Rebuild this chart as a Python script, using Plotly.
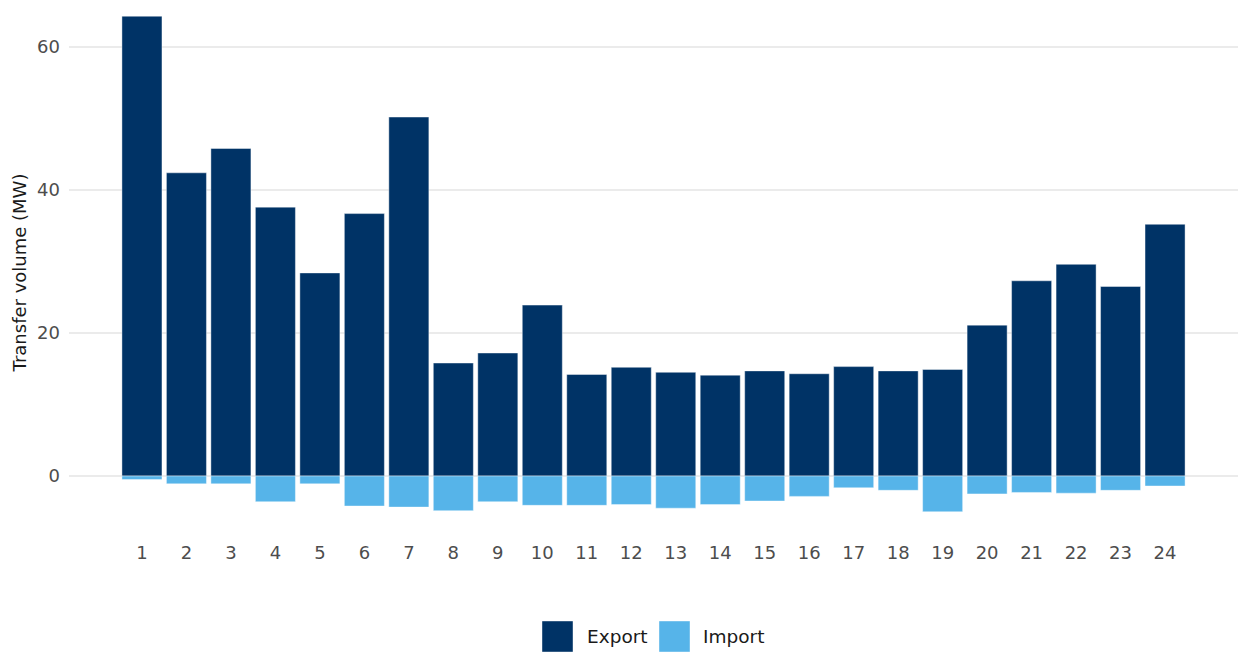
import plotly.graph_objects as go

hours = list(range(1, 25))
hour_labels = [str(h) for h in hours]
export_mw = [64.3, 42.4, 45.8, 37.6, 28.4, 36.7, 50.2, 15.8, 17.2, 23.9, 14.2, 15.2,
             14.5, 14.1, 14.7, 14.3, 15.3, 14.7, 14.9, 21.1, 27.3, 29.6, 26.5, 35.2]
import_mw = [-0.5, -1.1, -1.1, -3.6, -1.1, -4.2, -4.35, -4.85, -3.6, -4.1, -4.1, -4.0,
             -4.5, -4.0, -3.5, -2.85, -1.65, -2.0, -5.0, -2.5, -2.3, -2.4, -2.0, -1.4]
series_names = ["Export", "Import"]

EXPORT_COLOR = "#003366"
IMPORT_COLOR = "#56B4E9"
FONT = "DejaVu Sans"
W, H = 1238, 656
ML, MR, MT, MB = 69, 0, 5, 116

fig = go.Figure()
fig.add_trace(go.Bar(x=hours, y=export_mw, name=series_names[0], showlegend=False,
                     marker=dict(color=EXPORT_COLOR, line=dict(color="rgba(255,255,255,0.7)", width=0.6))))
fig.add_trace(go.Bar(x=hours, y=import_mw, name=series_names[1], showlegend=False,
                     marker=dict(color=IMPORT_COLOR, line=dict(color="rgba(255,255,255,0.7)", width=0.6))))

# Legend drawn with large square keys (like the reference)
pw, ph = W - ML - MR, H - MT - MB
def px_x(p):
    return (p - ML) / pw
def px_y(p):
    return (H - MB - p) / ph

legend_items = [(series_names[0], EXPORT_COLOR, 542, 586), (series_names[1], IMPORT_COLOR, 659, 702)]
for name, col, sx, tx in legend_items:
    fig.add_shape(type="rect", xref="paper", yref="paper",
                  x0=px_x(sx), x1=px_x(sx + 31), y0=px_y(652), y1=px_y(621),
                  fillcolor=col, line=dict(color="rgba(255,255,255,0.7)", width=0.6), layer="above")
    fig.add_annotation(xref="paper", yref="paper", x=px_x(tx - 1), y=px_y(636.5),
                       xanchor="left", yanchor="middle", showarrow=False, text=name,
                       font=dict(family=FONT, size=18.5, color="#1a1a1a"))

fig.update_layout(
    barmode="relative",
    bargap=0.1,
    width=W, height=H,
    margin=dict(l=ML, r=MR, t=MT, b=MB),
    paper_bgcolor="white", plot_bgcolor="white",
    font=dict(family=FONT, size=18, color="#4d4d4d"),
    showlegend=False,
    xaxis=dict(range=[-0.64, 25.64], tickmode="array", tickvals=hours, ticktext=hour_labels,
               showgrid=False, zeroline=False, showline=False, ticks="",
               tickfont=dict(size=18, color="#4d4d4d")),
    yaxis=dict(range=[-8.95, 65.87], tickvals=[0, 20, 40, 60], showgrid=True,
               gridcolor="#ebebeb", gridwidth=1.5, zeroline=False, showline=False, ticks="",
               tickfont=dict(size=18, color="#4d4d4d"), ticklabelstandoff=8,
               title=dict(text="Transfer volume (MW)", font=dict(size=18, color="#1a1a1a"), standoff=5)),
)

fig.write_html("out.html", config={"displayModeBar": False},
               post_script="document.body.style.margin='0';")
